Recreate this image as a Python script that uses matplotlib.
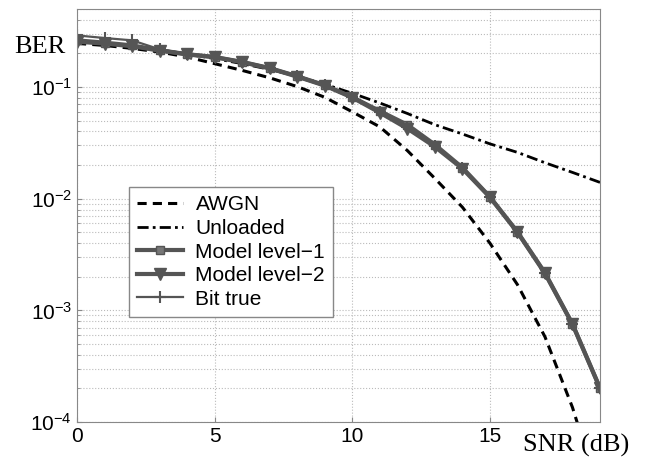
import numpy as np
import matplotlib.pyplot as plt

snr = list(range(0, 20))

awgn = [0.246, 0.236, 0.222, 0.206, 0.186, 0.162, 0.141, 0.121, 0.101, 0.081,
        0.060, 0.044, 0.027, 0.0152, 0.0084, 0.0040, 0.00170, 0.00058, 0.000135, 0.000022]
unloaded = [0.262, 0.247, 0.232, 0.215, 0.197, 0.180, 0.162, 0.144, 0.125, 0.106,
            0.088, 0.072, 0.058, 0.046, 0.038, 0.031, 0.026, 0.021, 0.0172, 0.0140]
model1 = [0.262, 0.250, 0.236, 0.214, 0.197, 0.186, 0.168, 0.148, 0.125, 0.104,
          0.0813, 0.0610, 0.0460, 0.0305, 0.0190, 0.0104, 0.00505, 0.00217, 0.000755, 0.000202]
model2 = [0.255, 0.245, 0.232, 0.212, 0.196, 0.185, 0.167, 0.147, 0.124, 0.103,
          0.0805, 0.0590, 0.0425, 0.0292, 0.0186, 0.0103, 0.00500, 0.00214, 0.000750, 0.000200]
bittrue = [0.290, 0.275, 0.262, 0.218, 0.199, 0.187, 0.169, 0.149, 0.126, 0.105,
           0.0820, 0.0600, 0.0440, 0.0298, 0.0188, 0.01035, 0.00503, 0.00216, 0.000755, 0.000202]

plt.rcParams['font.family'] = ['Liberation Sans', 'DejaVu Sans']

fig = plt.figure(figsize=(6.6, 4.58), dpi=100)
ax = fig.add_axes([0.1167, 0.0786, 0.7924, 0.9017])

gray = '#555555'
ax.plot(snr, awgn, color='black', ls=(0, (3, 2)), lw=2.2, label='AWGN')
ax.plot(snr, unloaded, color='black', ls=(0, (4, 1.5, 1, 1.5)), lw=2.0, label='Unloaded')
ax.plot(snr, model1, color=gray, lw=3, marker='s', ms=6, mfc='#777777', mec=gray, label='Model level\u22121')
ax.plot(snr, model2, color=gray, lw=3, marker='v', ms=8, mfc=gray, mec=gray, label='Model level\u22122')
ax.plot(snr, bittrue, color=gray, lw=1.6, marker='+', ms=9, mew=1.5, label='Bit true')

ax.set_yscale('log')
ax.set_xlim(0, 19)
ax.set_ylim(1e-4, 0.5)
ax.set_xticks([0, 5, 10, 15])
ax.grid(True, which='major', color='#bbbbbb', ls=':', lw=0.8)
ax.grid(True, which='minor', axis='y', color='#bbbbbb', ls=':', lw=0.8)
ax.tick_params(labelsize=15, direction='in', color='#888888', which='both')
for s in ax.spines.values():
    s.set_color('#888888')

leg = ax.legend(loc='upper left', bbox_to_anchor=(0.099, 0.569), borderaxespad=0,
                fontsize=15, handlelength=2.2, fancybox=False, framealpha=1,
                edgecolor='#888888', labelspacing=0.22, borderpad=0.4, handletextpad=0.6)
leg.get_frame().set_linewidth(1.0)

fig.text(0.022, 0.885, 'BER', family='Liberation Serif', fontsize=19)
fig.text(0.792, 0.013, 'SNR (dB)', family='Liberation Serif', fontsize=19)

fig.savefig('out.png', dpi=100)
